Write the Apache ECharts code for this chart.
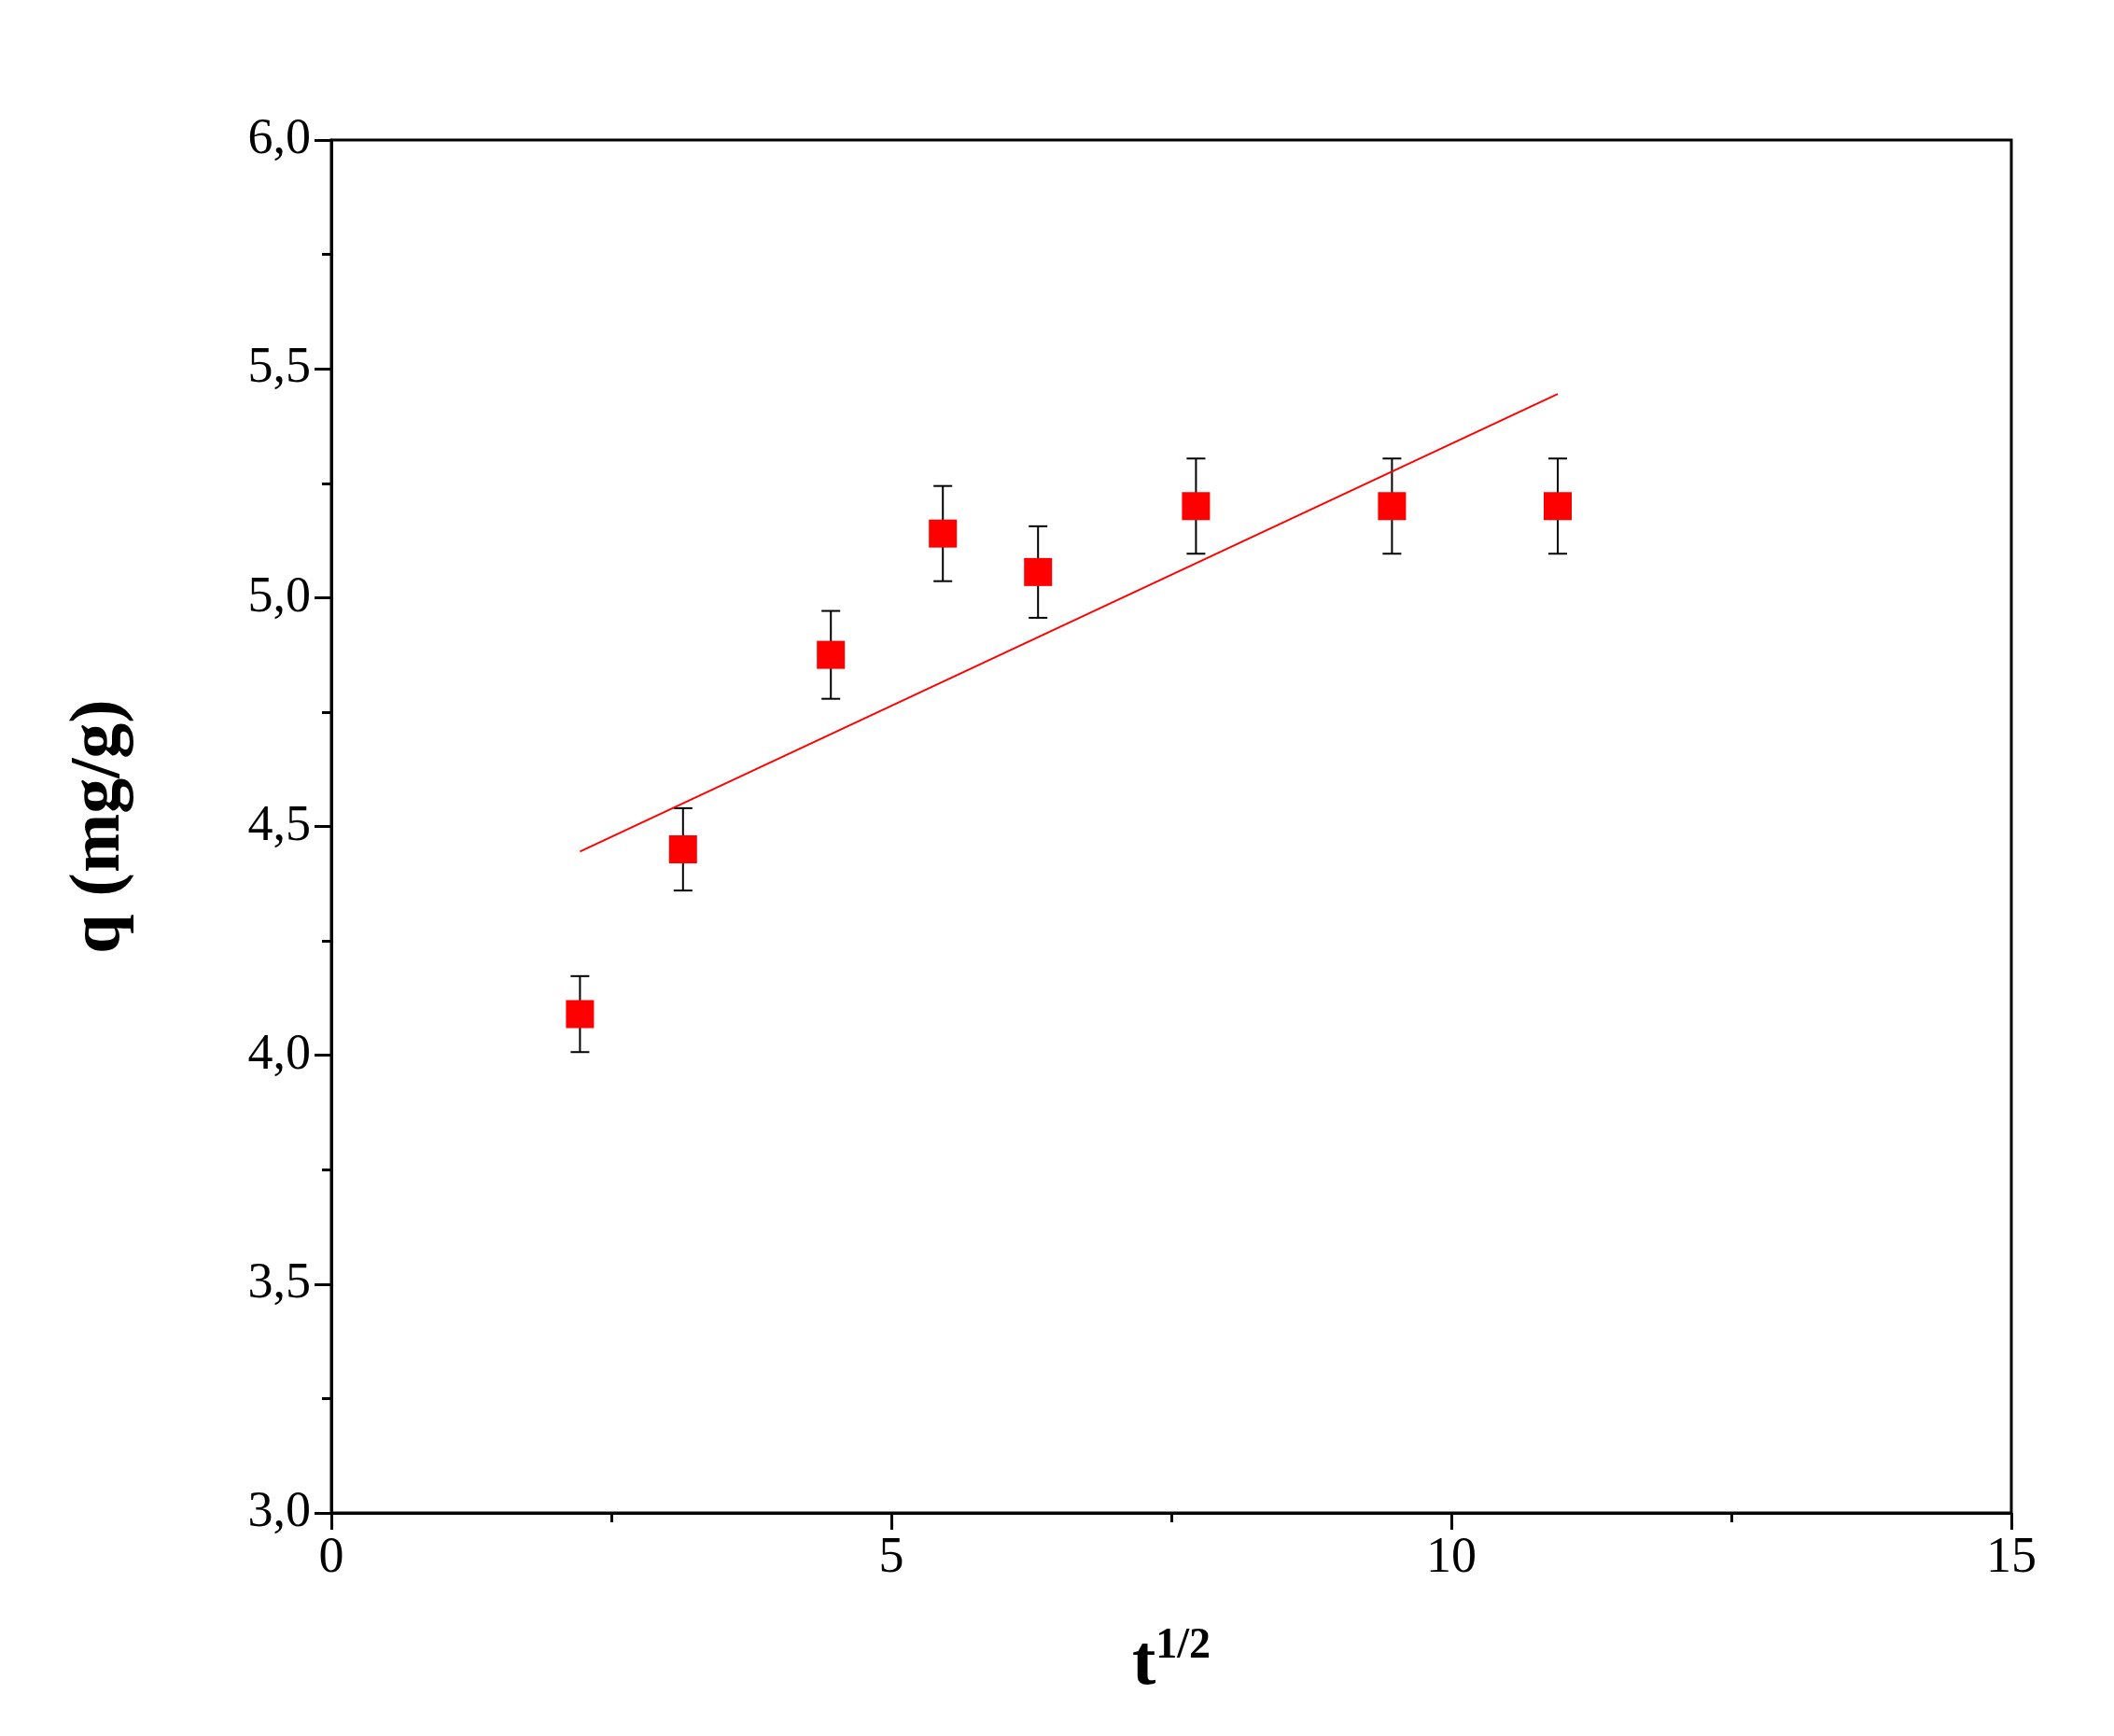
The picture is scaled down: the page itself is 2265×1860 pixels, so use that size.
<!DOCTYPE html>
<html><head><meta charset="utf-8">
<script src="https://cdn.jsdelivr.net/npm/echarts@6/dist/echarts.min.js"></script>
<style>html,body{margin:0;background:#fff}#c{width:2265px;height:1860px}</style>
</head><body><div id="c"></div>
<script>
// q vs t^1/2 data
const tSqrt = [2.22, 3.14, 4.46, 5.46, 6.31, 7.72, 9.47, 10.95];
const q = [4.09, 4.45, 4.875, 5.14, 5.056, 5.20, 5.20, 5.20];
const qErr = [0.083, 0.09, 0.096, 0.104, 0.1, 0.104, 0.104, 0.104];
const fitLine = [[2.22, 4.445], [10.95, 5.445]];

const font = 'Liberation Serif';
const pts = tSqrt.map((t, i) => [t, q[i]]);
const errData = tSqrt.map((t, i) => [t, q[i] - qErr[i], q[i] + qErr[i]]);

const chart = echarts.init(document.getElementById('c'));
chart.setOption({
    animation: false,
    grid: { left: 355, right: 110, top: 150, bottom: 239, show: true, borderColor: '#000', borderWidth: 3 },
    xAxis: {
        type: 'value', min: 0, max: 15, interval: 5,
        name: '{b|t}{s|1/2}', nameLocation: 'middle', nameGap: 120,
        nameTextStyle: { rich: {
            b: { fontFamily: font, fontWeight: 'bold', fontSize: 76, color: '#000' },
            s: { fontFamily: font, fontWeight: 'bold', fontSize: 46, color: '#000', verticalAlign: 'top', padding: [0, 0, 40, 0] }
        } },
        axisLine: { lineStyle: { color: '#000', width: 3 } },
        axisTick: { length: 18, lineStyle: { width: 3 } },
        minorTick: { show: true, splitNumber: 2, length: 10, lineStyle: { color: '#000', width: 3 } },
        axisLabel: { fontFamily: font, fontSize: 54, color: '#000', margin: 22 },
        splitLine: { show: false }
    },
    yAxis: {
        type: 'value', min: 3, max: 6, interval: 0.5,
        name: 'q (mg/g)', nameLocation: 'middle', nameGap: 210,
        nameTextStyle: { fontFamily: font, fontWeight: 'bold', fontSize: 76, color: '#000' },
        axisLine: { lineStyle: { color: '#000', width: 3 } },
        axisTick: { length: 18, lineStyle: { width: 3 } },
        minorTick: { show: true, splitNumber: 2, length: 10, lineStyle: { color: '#000', width: 3 } },
        axisLabel: { fontFamily: font, fontSize: 54, color: '#000', margin: 22,
            formatter: v => v.toFixed(1).replace('.', ',') },
        splitLine: { show: false }
    },
    series: [
        {
            type: 'line', data: fitLine, symbol: 'none',
            lineStyle: { color: '#ff0000', width: 2 }
        },
        {
            type: 'custom', data: errData, z: 3,
            renderItem: (params, api) => {
                const x = api.value(0);
                const lo = api.coord([x, api.value(1)]);
                const hi = api.coord([x, api.value(2)]);
                const w = 10;
                const st = { stroke: '#000', lineWidth: 2 };
                return { type: 'group', children: [
                    { type: 'line', shape: { x1: lo[0], y1: lo[1], x2: hi[0], y2: hi[1] }, style: st },
                    { type: 'line', shape: { x1: lo[0] - w, y1: lo[1], x2: lo[0] + w, y2: lo[1] }, style: st },
                    { type: 'line', shape: { x1: hi[0] - w, y1: hi[1], x2: hi[0] + w, y2: hi[1] }, style: st }
                ] };
            }
        },
        {
            type: 'scatter', data: pts, symbol: 'rect', symbolSize: 30, z: 5,
            itemStyle: { color: '#ff0000', opacity: 1 }
        }
    ]
});
</script></body></html>
